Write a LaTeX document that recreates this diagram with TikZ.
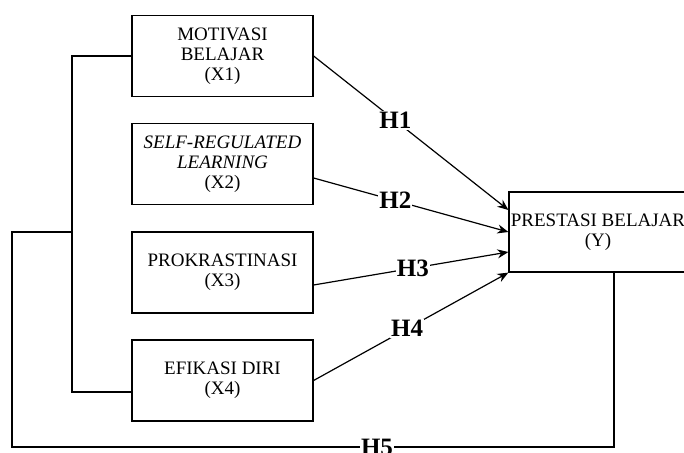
\documentclass[tikz,border=0pt]{standalone}
\usepackage{fontspec}
\setmainfont{Liberation Serif}
\usetikzlibrary{arrows.meta,calc}
\begin{document}
\begin{tikzpicture}[x=1pt,y=-1pt,line width=1.2pt,
  box/.style={draw,minimum width=181pt,minimum height=81pt,align=center,
    font=\fontsize{19}{20}\selectfont,inner sep=1pt},
  hyp/.style={font=\fontsize{25}{25}\selectfont\bfseries,fill=white,inner sep=1pt},
  arr/.style={-{Stealth[length=11pt,width=9pt]}}]
\useasboundingbox (0,0) rectangle (684,452);
\node[box] (x1) at (222.5,56) {MOTIVASI\\BELAJAR\\(X1)};
\node[box] (x2) at (222.5,164) {\textit{SELF-REGULATED}\\\textit{LEARNING}\\(X2)};
\node[box] (x3) at (222.5,272.5) {PROKRASTINASI\\(X3)};
\node[box] (x4) at (222.5,380.5) {EFIKASI DIRI\\(X4)};
\node[box,minimum width=178pt,minimum height=80pt] (Y) at (598,232) {PRESTASI BELAJAR\\(Y)};
\coordinate (bt) at (72,56);
\coordinate (bb) at (72,392);
\coordinate (cbl) at (12,447);
\coordinate (ctl) at (12,232);
\coordinate (cbr) at (72,232);
\draw (x1.west) -- (bt) -- (bb) -- ([yshift=-11.5pt]x4.west);
\draw ([xshift=16pt]Y.south) |- (cbl) -- (ctl) -- (cbr);
\node[hyp] (h5) at (377,447) {H5};
\draw[arr] (x1.east) -- node[hyp,pos=0.42] (h1) {H1} ([yshift=22pt]Y.west);
\draw[arr] ([yshift=-14pt]x2.east) -- node[hyp,pos=0.42] (h2) {H2} (Y.west);
\draw[arr] ([yshift=-12.5pt]x3.east) -- node[hyp,pos=0.51] (h3) {H3} ([yshift=-20pt]Y.west);
\draw[arr] (x4.east) -- node[hyp,pos=0.48] (h4) {H4} (Y.south west);
\end{tikzpicture}
\end{document}
